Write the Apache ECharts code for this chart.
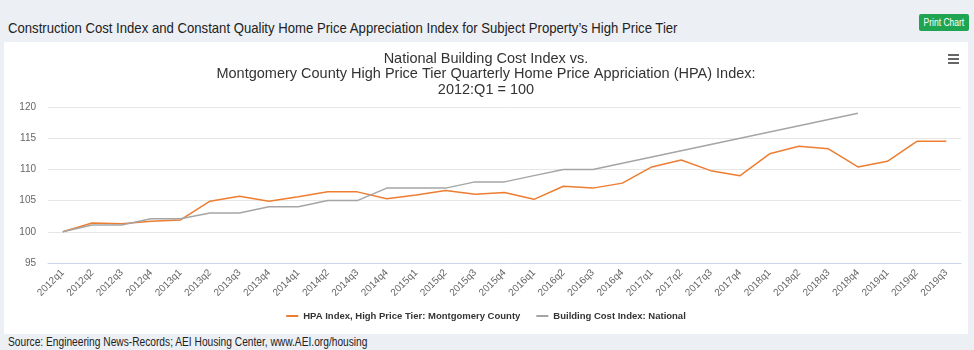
<!DOCTYPE html>
<html>
<head>
<meta charset="utf-8">
<script src="https://cdn.jsdelivr.net/npm/echarts@6/dist/echarts.min.js"></script>
<style>
    body { margin: 0; width: 974px; height: 350px; background: #eceff4; font-family: "Liberation Sans", Arial, sans-serif; position: relative; overflow: hidden; }
    .page-title { position: absolute; left: 8px; top: 19px; font-size: 15px; color: #222; white-space: nowrap; transform: scaleX(0.876); transform-origin: left top; }
    .print-btn { position: absolute; left: 919px; top: 14px; width: 50px; height: 17px; background: #1fa551; color: #fff; font-size: 10px; line-height: 17px; text-align: center; border-radius: 2px; }
    .print-btn span { display: inline-block; transform: scaleX(0.85); }
    #chart { position: absolute; left: 4px; top: 42px; width: 964px; height: 292px; background: #fff; }
    .menu { position: absolute; left: 948px; top: 54px; width: 11px; }
    .menu div { height: 2px; background: #666; margin-bottom: 2px; }
    .source { position: absolute; left: 8px; top: 335px; font-size: 12px; color: #222; white-space: nowrap; transform: scaleX(0.85); transform-origin: left top; }
</style>
</head>
<body>
<div class="page-title">Construction Cost Index and Constant Quality Home Price Appreciation Index for Subject Property’s High Price Tier</div>
<div class="print-btn"><span>Print Chart</span></div>
<div id="chart"></div>
<div class="menu"><div></div><div></div><div></div></div>
<div class="source">Source: Engineering News-Records; AEI Housing Center, www.AEI.org/housing</div>
<script>
// 季度
const quarters = [
    '2012q1', '2012q2', '2012q3', '2012q4',
    '2013q1', '2013q2', '2013q3', '2013q4',
    '2014q1', '2014q2', '2014q3', '2014q4',
    '2015q1', '2015q2', '2015q3', '2015q4',
    '2016q1', '2016q2', '2016q3', '2016q4',
    '2017q1', '2017q2', '2017q3', '2017q4',
    '2018q1', '2018q2', '2018q3', '2018q4',
    '2019q1', '2019q2', '2019q3'
];

// HPA指数 (Montgomery County 高价位)
const hpaIndex = [
    100, 101.4, 101.3, 101.7,
    101.9, 104.9, 105.7, 104.9,
    105.6, 106.4, 106.4, 105.3,
    105.9, 106.6, 106.0, 106.3,
    105.2, 107.3, 107.0, 107.8,
    110.4, 111.5, 109.8, 109.0,
    112.5, 113.7, 113.3, 110.4,
    111.3, 114.5, 114.5
];

// 建筑成本指数 (全国)
const costIndex = [
    100, 101.1, 101.1, 102.1,
    102.1, 103, 103, 104,
    104, 105, 105, 107,
    107, 107, 108, 108,
    109, 110, 110, 111,
    112, 113, 114, 115,
    116, 117, 118, 119,
    null, null, null
];

const yTicks = { min: 95, max: 120, step: 5 };

const chart = echarts.init(document.getElementById('chart'));

chart.setOption({
    animation: false,
    title: {
        text: 'National Building Cost Index vs.\nMontgomery County High Price Tier Quarterly Home Price Appriciation (HPA) Index:\n2012:Q1 = 100',
        left: 'center',
        top: 4,
        textStyle: {
            fontSize: 14.5,
            fontWeight: 'normal',
            color: '#333',
            lineHeight: 15.5,
            fontFamily: '"Liberation Sans", Arial, sans-serif'
        }
    },
    legend: {
        bottom: 8,
        left: 'center',
        itemWidth: 12,
        itemHeight: 2,
        itemGap: 16,
        icon: 'rect',
        textStyle: { fontSize: 9.5, color: '#333', fontWeight: 'bold' }
    },
    grid: {
        left: 44,
        right: 7,
        top: 65,
        bottom: 71
    },
    xAxis: {
        type: 'category',
        data: quarters,
        boundaryGap: true,
        axisLine: { lineStyle: { color: '#ccd6eb' } },
        axisTick: { show: false },
        axisLabel: {
            rotate: 45,
            color: '#666',
            fontSize: 10,
            interval: 0,
            margin: 8
        }
    },
    yAxis: {
        type: 'value',
        min: yTicks.min,
        max: yTicks.max,
        interval: yTicks.step,
        axisLine: { show: false },
        axisTick: { show: false },
        axisLabel: { color: '#666', fontSize: 10, margin: 12 },
        splitLine: { lineStyle: { color: '#e6e6e6' } }
    },
    series: [
        {
            name: 'HPA Index, High Price Tier: Montgomery County',
            type: 'line',
            data: hpaIndex,
            symbol: 'none',
            itemStyle: { color: '#ed7d31' },
            lineStyle: { width: 1.5, color: '#ed7d31' }
        },
        {
            name: 'Building Cost Index: National',
            type: 'line',
            data: costIndex,
            symbol: 'none',
            itemStyle: { color: '#a5a5a5' },
            lineStyle: { width: 1.5, color: '#a5a5a5' }
        }
    ]
});
</script>
</body>
</html>
